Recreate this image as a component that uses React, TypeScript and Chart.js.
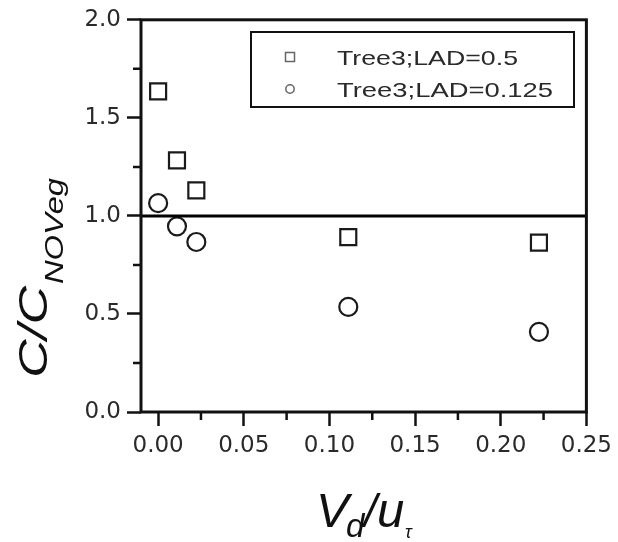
import React, { useEffect, useRef } from "react";
import { Chart, registerables } from "chart.js";

Chart.register(...registerables);

// ---- data ----
const xLAD05 = [0, 0.011, 0.0223, 0.111, 0.2223];
const yLAD05 = [1.635, 1.283, 1.13, 0.892, 0.864];
const xLAD0125 = [0, 0.011, 0.0223, 0.111, 0.2223];
const yLAD0125 = [1.065, 0.947, 0.867, 0.536, 0.409];
const seriesLabels = ["Tree3;LAD=0.5", "Tree3;LAD=0.125"];
const refLineX = [-0.01, 0.25];
const refLineY = [1.0, 1.0];
const xRange = [-0.01, 0.25];
const yRange = [0, 2];
const xMajorTicks = [0, 0.05, 0.1, 0.15, 0.2, 0.25];
const xMinorTicks = [0.025, 0.075, 0.125, 0.175, 0.225];
const yMajorTicks = [0, 0.5, 1.0, 1.5, 2.0];
const yMinorTicks = [0.25, 0.75, 1.25, 1.75];

const INK = "#111";
const TEXT = "#2a2a2a";
const SANS = "'Liberation Sans', Arial, Helvetica, sans-serif";

function fitText(ctx: CanvasRenderingContext2D, text: string, x: number, y: number, font: string, width?: number) {
  ctx.save();
  ctx.font = font;
  const w = ctx.measureText(text).width;
  const sx = width ? width / w : 1;
  ctx.translate(x, y);
  ctx.scale(sx, 1);
  ctx.textAlign = "left";
  ctx.textBaseline = "alphabetic";
  ctx.fillText(text, 0, 0);
  ctx.restore();
}

const decorPlugin = {
  id: "decor",
  afterDraw(chart: any) {
    const ctx: CanvasRenderingContext2D = chart.ctx;
    const { left, right, top, bottom } = chart.chartArea;
    const xs = chart.scales.x;
    const ys = chart.scales.y;
    ctx.save();
    // frame
    ctx.strokeStyle = INK;
    ctx.lineWidth = 3;
    ctx.strokeRect(left, top, right - left, bottom - top);
    // minor ticks
    ctx.lineWidth = 2.5;
    ctx.beginPath();
    xMinorTicks.forEach((v) => {
      const px = xs.getPixelForValue(v);
      ctx.moveTo(px, bottom);
      ctx.lineTo(px, bottom + 8);
    });
    yMinorTicks.forEach((v) => {
      const py = ys.getPixelForValue(v);
      ctx.moveTo(left, py);
      ctx.lineTo(left - 8, py);
    });
    ctx.stroke();

    // legend
    ctx.lineWidth = 2;
    ctx.strokeStyle = INK;
    ctx.strokeRect(251, 32, 323, 75);
    ctx.strokeStyle = "#666";
    ctx.lineWidth = 1.5;
    ctx.strokeRect(285.5, 52.5, 9, 9);
    ctx.beginPath();
    ctx.arc(290, 89, 4.2, 0, Math.PI * 2);
    ctx.stroke();
    ctx.fillStyle = TEXT;
    fitText(ctx, seriesLabels[0], 337, 65, `21px ${SANS}`, 181);
    fitText(ctx, seriesLabels[1], 337, 97, `21px ${SANS}`, 216);

    // x title  V_d / u_tau
    ctx.fillStyle = "#111";
    fitText(ctx, "V", 316, 527, `italic 49px ${SANS}`);
    fitText(ctx, "d", 346, 537, `italic 33px ${SANS}`);
    fitText(ctx, "/", 364, 527, `italic 46px ${SANS}`);
    fitText(ctx, "u", 377, 527, `italic 49px ${SANS}`);
    fitText(ctx, "\u03c4", 405, 538, `italic 18px ${SANS}`);

    // y title  C/C_NOVeg (rotated)
    ctx.save();
    ctx.translate(47, 378);
    ctx.rotate(-Math.PI / 2);
    fitText(ctx, "C/C", 0, 0, `italic 40px ${SANS}`, 92);
    ctx.restore();
    ctx.save();
    ctx.translate(63, 284);
    ctx.rotate(-Math.PI / 2);
    fitText(ctx, "NOVeg", 0, 0, `italic 26px ${SANS}`, 106);
    ctx.restore();

    ctx.restore();
  },
};

export default function App() {
  const ref = useRef<HTMLCanvasElement | null>(null);
  useEffect(() => {
    if (!ref.current) return;
    const chart = new Chart(ref.current, {
      type: "scatter",
      data: {
        datasets: [
          {
            label: "ref",
            data: refLineX.map((x, i) => ({ x, y: refLineY[i] })),
            showLine: true,
            borderColor: "#000",
            borderWidth: 3,
            pointRadius: 0,
            fill: false,
          } as any,
          {
            label: seriesLabels[0],
            data: xLAD05.map((x, i) => ({ x, y: yLAD05[i] })),
            pointStyle: "rect",
            pointRadius: 11.3,
            pointBorderWidth: 2.2,
            borderColor: "#1a1a1a",
            backgroundColor: "rgba(0,0,0,0)",
          },
          {
            label: seriesLabels[1],
            data: xLAD0125.map((x, i) => ({ x, y: yLAD0125[i] })),
            pointStyle: "circle",
            pointRadius: 9,
            pointBorderWidth: 2.2,
            borderColor: "#1a1a1a",
            backgroundColor: "rgba(0,0,0,0)",
          },
        ],
      },
      options: {
        animation: false,
        responsive: false,
        maintainAspectRatio: false,
        events: [],
        layout: { padding: { top: 19, right: 28, left: 0, bottom: 0 } },
        plugins: { legend: { display: false }, tooltip: { enabled: false } },
        scales: {
          x: {
            type: "linear",
            min: xRange[0],
            max: xRange[1],
            afterBuildTicks: (s: any) => {
              s.ticks = xMajorTicks.map((v) => ({ value: v }));
            },
            afterFit: (s: any) => {
              s.height = 130;
            },
            border: { display: false },
            grid: {
              display: true,
              drawOnChartArea: false,
              drawTicks: true,
              tickLength: 14,
              tickWidth: 2.5,
              tickColor: INK,
            },
            ticks: {
              color: TEXT,
              padding: 6,
              maxRotation: 0,
              font: { family: "'DejaVu Sans'", size: 23 },
              callback: (v: any) => Number(v).toFixed(2),
            },
          },
          y: {
            type: "linear",
            min: yRange[0],
            max: yRange[1],
            afterBuildTicks: (s: any) => {
              s.ticks = yMajorTicks.map((v) => ({ value: v }));
            },
            afterFit: (s: any) => {
              s.width = 141;
            },
            border: { display: false },
            grid: {
              display: true,
              drawOnChartArea: false,
              drawTicks: true,
              tickLength: 14,
              tickWidth: 2.5,
              tickColor: INK,
            },
            ticks: {
              color: TEXT,
              padding: 6,
              font: { family: "'DejaVu Sans'", size: 23 },
              callback: (v: any) => Number(v).toFixed(1),
            },
          },
        },
      },
      plugins: [decorPlugin],
    });
    return () => chart.destroy();
  }, []);
  return (
    <div style={{ position: "fixed", left: 0, top: 0, width: 618, height: 542, background: "#fff" }}>
      <canvas ref={ref} width={618} height={542} style={{ display: "block", width: 618, height: 542 }} />
    </div>
  );
}
